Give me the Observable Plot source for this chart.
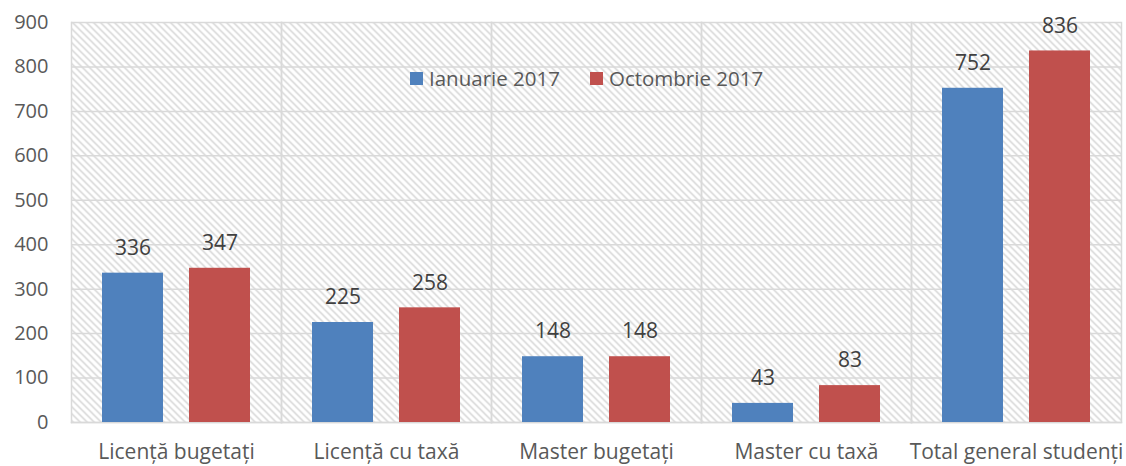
<!DOCTYPE html>
<html>
<head>
<meta charset="utf-8">
<script src="https://cdn.jsdelivr.net/npm/d3@7"></script>
<script src="https://cdn.jsdelivr.net/npm/@observablehq/plot@0.6"></script>
<style>
  html, body { margin: 0; padding: 0; background: white; }
  #wrap { position: relative; width: 1126px; height: 466px; font-family: "Open Sans", sans-serif; }
  #legend { position: absolute; left: 410px; top: 64px; display: flex; align-items: center; font-size: 20.5px; color: #595959; }
  .item { display: flex; align-items: center; margin-right: 30px; }
  .sw { width: 13px; height: 13px; margin-right: 6px; }
</style>
</head>
<body>
<div id="wrap"><div id="legend"></div></div>
<script>
const categories = ["Licență bugetați", "Licență cu taxă", "Master bugetați", "Master cu taxă", "Total general studenți"];
const series = ["Ianuarie 2017", "Octombrie 2017"];
const ianuarie2017 = [336, 225, 148, 43, 752];
const octombrie2017 = [347, 258, 148, 83, 836];
const yTicks = [0, 100, 200, 300, 400, 500, 600, 700, 800, 900];
const colors = ["#4F81BD", "#C0504D"];

const data = [];
categories.forEach((c, i) => {
  data.push({category: c, series: series[0], value: ianuarie2017[i]});
  data.push({category: c, series: series[1], value: octombrie2017[i]});
});

const grid = "#d9d9d9";
const chart = Plot.plot({
  width: 1126,
  height: 466,
  marginLeft: 70,
  marginRight: 4,
  marginTop: 22,
  marginBottom: 44,
  style: {fontFamily: "Open Sans, sans-serif", fontSize: "20px", color: "#595959", background: "white", overflow: "visible"},
  fx: {domain: categories, padding: 0, label: null, axis: null},
  x: {domain: series, paddingInner: 0.295, paddingOuter: 0.343, axis: null},
  y: {domain: [0, 900], label: null, axis: null},
  color: {domain: series, range: colors},
  marks: [
    Plot.frame({fill: "url(#hatch)", stroke: null}),
    Plot.gridY(yTicks, {stroke: grid, strokeOpacity: 1, strokeWidth: 1.5}),
    Plot.frame({anchor: "left", stroke: grid, strokeOpacity: 1, strokeWidth: 1.5}),
    Plot.frame({anchor: "right", stroke: grid, strokeOpacity: 1, strokeWidth: 1.5}),
    Plot.frame({anchor: "bottom", stroke: grid, strokeOpacity: 1, strokeWidth: 1.5}),
    Plot.barY(data, {fx: "category", x: "series", y: "value", fill: "series"}),
    Plot.text(data, {fx: "category", x: "series", y: "value", text: d => String(d.value), dy: -25, fill: "#404040", fontSize: 21}),
    Plot.axisY(yTicks, {tickSize: 0, tickPadding: 23, fill: "#595959", fontSize: 20, label: null}),
    Plot.axisFx({anchor: "bottom", tickSize: 0, tickPadding: 22, fill: "#595959", fontSize: 21, label: null})
  ]
});

// hatch pattern
const svgEl = d3.select(chart);
const defs = svgEl.insert("defs", ":first-child");
const pat = defs.append("pattern")
  .attr("id", "hatch")
  .attr("patternUnits", "userSpaceOnUse")
  .attr("width", 7).attr("height", 7);
pat.append("rect").attr("width", 7).attr("height", 7).attr("fill", "white");
pat.append("path")
  .attr("d", "M0,0L7,7M-1,6L1,8M6,-1L8,1")
  .attr("stroke", "#d0d0d0")
  .attr("stroke-width", 1.3);

document.getElementById("wrap").prepend(chart);

const legend = d3.select("#legend");
series.forEach((s, i) => {
  const it = legend.append("div").attr("class", "item");
  it.append("div").attr("class", "sw").style("background", colors[i]);
  it.append("span").text(s);
});
</script>
</body>
</html>
